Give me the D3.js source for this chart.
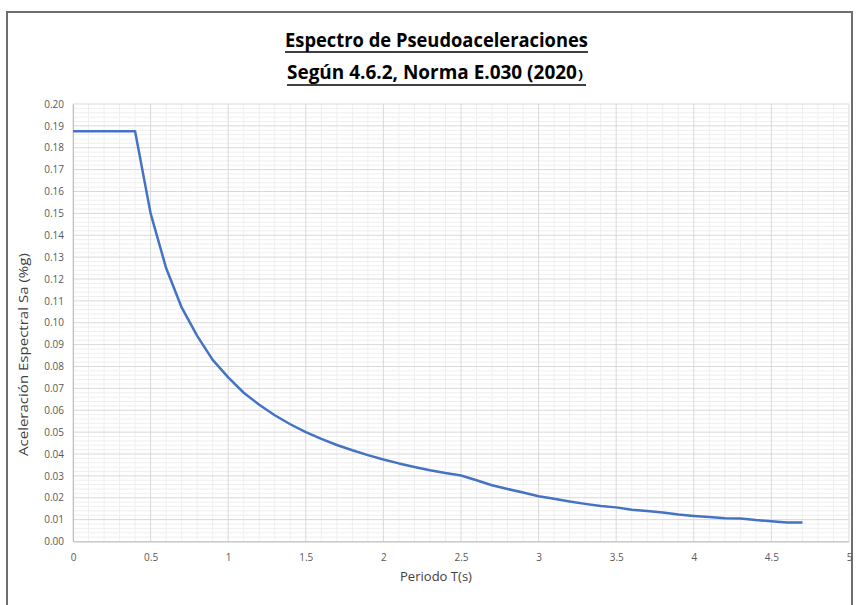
<!DOCTYPE html>
<html>
<head>
<meta charset="utf-8">
<script src="https://cdn.jsdelivr.net/npm/d3@7"></script>
<style>
  html, body { margin: 0; padding: 0; background: #fff; }
  svg { display: block; }
</style>
</head>
<body>
<svg id="chart" width="856" height="605"></svg>
<script>
// ---- Data ----
const periods = [0, 0.4, 0.5, 0.6, 0.7, 0.8, 0.9, 1.0, 1.1, 1.2, 1.3, 1.4, 1.5, 1.6, 1.7, 1.8, 1.9, 2.0,
  2.1, 2.2, 2.3, 2.4, 2.5, 2.6, 2.7, 2.8, 2.9, 3.0, 3.1, 3.2, 3.3, 3.4, 3.5, 3.6, 3.7, 3.8, 3.9, 4.0,
  4.1, 4.2, 4.3, 4.4, 4.5, 4.6, 4.7];
const saValues = [0.1875, 0.1875, 0.150, 0.125, 0.107, 0.094, 0.083, 0.075, 0.068, 0.0625, 0.0577, 0.0536,
  0.0500, 0.0469, 0.0441, 0.0417, 0.0395, 0.0375, 0.0357, 0.0341, 0.0326, 0.0313, 0.0302, 0.0280, 0.0257,
  0.0240, 0.0224, 0.0207, 0.0195, 0.0183, 0.0172, 0.0162, 0.0156, 0.0145, 0.0139, 0.0133, 0.0123, 0.0117,
  0.0112, 0.0106, 0.0105, 0.0098, 0.0093, 0.0087, 0.0087];
const xTickValues = [0, 0.5, 1, 1.5, 2, 2.5, 3, 3.5, 4, 4.5, 5];
const xTickLabels = ["0", "0.5", "1", "1.5", "2", "2.5", "3", "3.5", "4", "4.5", "5"];
const yTickValues = [0, 0.01, 0.02, 0.03, 0.04, 0.05, 0.06, 0.07, 0.08, 0.09, 0.10,
  0.11, 0.12, 0.13, 0.14, 0.15, 0.16, 0.17, 0.18, 0.19, 0.20];
const yTickLabels = ["0.00", "0.01", "0.02", "0.03", "0.04", "0.05", "0.06", "0.07", "0.08", "0.09", "0.10",
  "0.11", "0.12", "0.13", "0.14", "0.15", "0.16", "0.17", "0.18", "0.19", "0.20"];
const titleLine1 = "Espectro de Pseudoaceleraciones";
const titleLine2 = "Según 4.6.2, Norma E.030 (2020";
const titleLine2End = ")";
const xTitle = "Periodo T(s)";
const yTitle = "Aceleración Espectral Sa (%g)";

// ---- Layout ----
const svg = d3.select("#chart");
const pLeft = 73, pRight = 849, pTop = 104, pBottom = 541.5;
const x = d3.scaleLinear().domain([0, 5]).range([pLeft, pRight]);
const y = d3.scaleLinear().domain([0, 0.20]).range([pBottom, pTop]);
const font = "'Open Sans', 'Liberation Sans', sans-serif";

svg.append("rect").attr("width", 856).attr("height", 605).attr("fill", "#fff");
// outer frame
svg.append("path")
  .attr("d", "M7,612 L7,12 L852,12 L852,612")
  .attr("fill", "none").attr("stroke", "#6e6e6e").attr("stroke-width", 2);

// minor grid
const g = svg.append("g");
const xMinor = d3.range(0, 51).map(i => i / 10).filter((d, i) => i % 5 !== 0);
const yMinor = d3.range(0, 101).map(i => i * 0.002).filter((d, i) => i % 5 !== 0);
g.selectAll(".xm").data(xMinor).enter().append("line")
  .attr("x1", d => x(d)).attr("x2", d => x(d)).attr("y1", pTop).attr("y2", pBottom)
  .attr("stroke", "#efefef").attr("stroke-width", 1);
g.selectAll(".ym").data(yMinor).enter().append("line")
  .attr("x1", pLeft).attr("x2", pRight).attr("y1", d => y(d)).attr("y2", d => y(d))
  .attr("stroke", "#efefef").attr("stroke-width", 1);
// major grid
g.selectAll(".xM").data(xTickValues).enter().append("line")
  .attr("x1", d => x(d)).attr("x2", d => x(d)).attr("y1", pTop).attr("y2", pBottom)
  .attr("stroke", "#d9d9d9").attr("stroke-width", 1);
g.selectAll(".yM").data(yTickValues).enter().append("line")
  .attr("x1", pLeft).attr("x2", pRight).attr("y1", d => y(d)).attr("y2", d => y(d))
  .attr("stroke", "#d9d9d9").attr("stroke-width", 1);

// axes
const xAxis = d3.axisBottom(x).tickValues(xTickValues)
  .tickFormat((d, i) => xTickLabels[i]).tickSize(0).tickPadding(12);
const xa = svg.append("g").attr("transform", `translate(0,${pBottom})`).call(xAxis);
xa.select(".domain").attr("stroke", "#bfbfbf");
xa.selectAll("text").attr("font-family", font).attr("font-size", 10).attr("fill", "#595959");

const yAxis = d3.axisLeft(y).tickValues(yTickValues)
  .tickFormat((d, i) => yTickLabels[i]).tickSize(0).tickPadding(9);
const ya = svg.append("g").attr("transform", `translate(${pLeft},0)`).call(yAxis);
ya.select(".domain").attr("stroke", "#bfbfbf");
ya.selectAll("text").attr("font-family", font).attr("font-size", 10).attr("fill", "#595959");

// series
const pts = periods.map((p, i) => [p, saValues[i]]);
svg.append("path").datum(pts)
  .attr("d", d3.line().x(d => x(d[0])).y(d => y(d[1])))
  .attr("fill", "none").attr("stroke", "#4472c4").attr("stroke-width", 2.5)
  .attr("stroke-linejoin", "round");

// helper: place text and scale horizontally to a target width (bbox stays true)
function fitText(str, px, py, width, size, weight, fill, rotate) {
  const grp = svg.append("g");
  const t = grp.append("text").text(str)
    .attr("font-family", font).attr("font-size", size)
    .attr("font-weight", weight).attr("fill", fill);
  const w = t.node().getComputedTextLength();
  const s = width / w;
  grp.attr("transform", `translate(${px},${py})` + (rotate ? ` rotate(${rotate})` : "") + ` scale(${s},1)`);
  return grp;
}

// titles
fitText(titleLine1, 285, 47, 303, 20, "bold", "#000");
svg.append("line").attr("x1", 285).attr("x2", 588).attr("y1", 52).attr("y2", 52)
  .attr("stroke", "#000").attr("stroke-width", 1.5);
fitText(titleLine2, 287, 79, 290, 20, "bold", "#000");
fitText(titleLine2End, 578, 79, 5, 12, "bold", "#000");
svg.append("line").attr("x1", 287).attr("x2", 586).attr("y1", 85).attr("y2", 85)
  .attr("stroke", "#000").attr("stroke-width", 1.5);

// axis titles
fitText(xTitle, 400, 581, 72, 13, "normal", "#404040");
fitText(yTitle, 28, 456, 203, 13, "normal", "#404040", -90);
</script>
</body>
</html>
